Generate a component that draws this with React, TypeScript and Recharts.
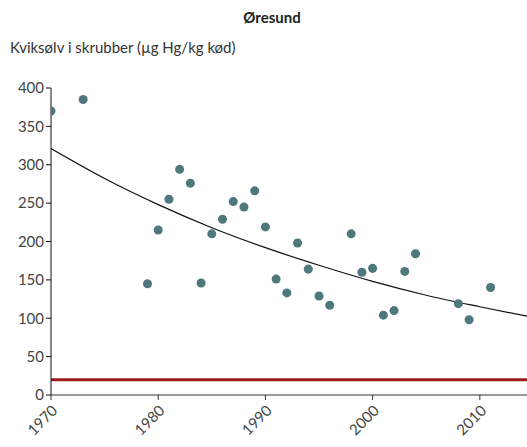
import { ComposedChart, Scatter, Line, XAxis, YAxis, ReferenceLine } from 'recharts';

const years = [1970, 1973, 1979, 1980, 1981, 1982, 1983, 1984, 1985, 1986, 1987, 1988, 1989, 1990, 1991, 1992, 1993, 1994, 1995, 1996, 1998, 1999, 2000, 2001, 2002, 2003, 2004, 2008, 2009, 2011];
const mercury = [370, 385, 145, 215, 255, 294, 276, 146, 210, 229, 252, 245, 266, 219, 151, 133, 198, 164, 129, 117, 210, 160, 165, 104, 110, 161, 184, 119, 98, 140];

// trend curve every 5 years
const trendYears = [1970, 1975, 1980, 1985, 1990, 1995, 2000, 2005, 2010, 2015];
const trendValues = [321, 282, 248, 218, 192, 169, 148, 130, 115, 101];

const limitValue = 20;
const xTicks = [1970, 1980, 1990, 2000, 2010];
const yTicks = [0, 50, 100, 150, 200, 250, 300, 350, 400];

const points = years.map((year, i) => ({ year, value: mercury[i] }));
const trend = trendYears.map((year, i) => ({ year, value: trendValues[i] }));

const FONT = 'Lato, "Open Sans", sans-serif';

export default function App() {
  return (
    <div style={{ position: 'absolute', left: 0, top: 0, width: 527, height: 447, background: '#fff', fontFamily: FONT }}>
      <div style={{ position: 'absolute', top: 8, left: 0, width: 544, textAlign: 'center', fontWeight: 700, fontSize: 15, color: '#222' }}>
        Øresund
      </div>
      <div style={{ position: 'absolute', top: 38, left: 10, fontSize: 15, color: '#333' }}>
        Kviksølv i skrubber (µg Hg/kg kød)
      </div>
      <ComposedChart width={527} height={447} margin={{ top: 88, right: 0, bottom: 0, left: 0 }}>
        <XAxis
          type="number"
          dataKey="year"
          domain={[1970, 2014.4]}
          ticks={xTicks}
          allowDataOverflow
          height={52}
          stroke="#333"
          tickSize={5}
          tick={{ fill: '#444', fontSize: 15, fontFamily: FONT, angle: -45, textAnchor: 'end', dy: 2 }}
        />
        <YAxis
          type="number"
          dataKey="value"
          domain={[0, 400]}
          ticks={yTicks}
          width={51}
          stroke="#111"
          tickSize={5}
          tick={{ fill: '#444', fontSize: 15, fontFamily: FONT }}
        />
        <ReferenceLine y={limitValue} stroke="#9e1b1b" strokeWidth={3} />
        <Line
          data={trend}
          dataKey="value"
          type="monotone"
          stroke="#111"
          strokeWidth={1.2}
          dot={false}
          isAnimationActive={false}
        />
        <Scatter data={points} dataKey="value" fill="#4e787e" isAnimationActive={false} />
      </ComposedChart>
    </div>
  );
}
